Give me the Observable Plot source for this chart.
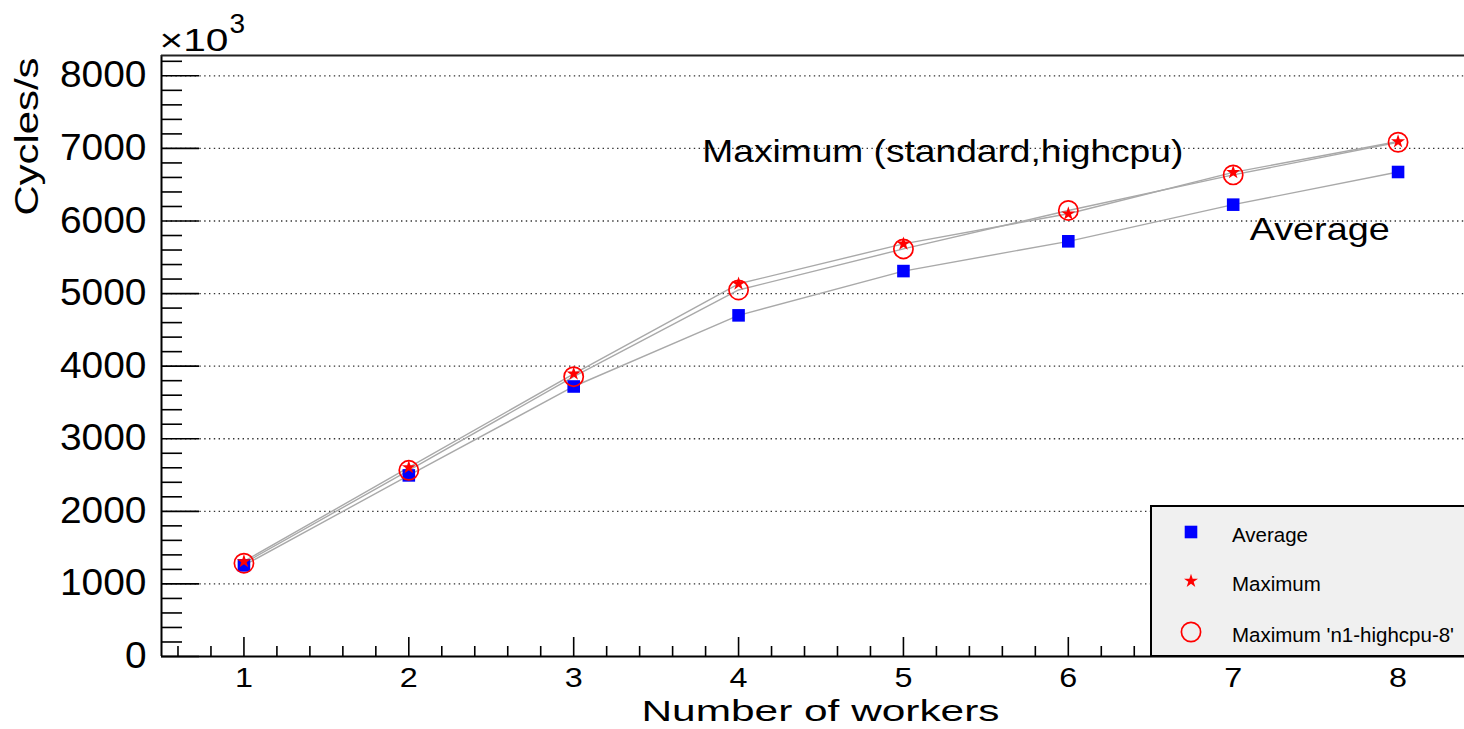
<!DOCTYPE html>
<html>
<head>
<meta charset="utf-8">
<script src="https://cdn.jsdelivr.net/npm/d3@7"></script>
<script src="https://cdn.jsdelivr.net/npm/@observablehq/plot@0.6"></script>
<style>
  html, body { margin: 0; padding: 0; background: #fff; overflow: hidden; }
  #wrap { position: relative; width: 1464px; height: 729px; overflow: hidden; }
  #legend { position: absolute; left: 1150px; top: 505px; }
</style>
</head>
<body>
<div id="wrap"></div>
<script>
// ---------------- data ----------------
const workers     = [1, 2, 3, 4, 5, 6, 7, 8];
const average     = [1255, 2495, 3720, 4700, 5310, 5720, 6225, 6675];
const maximum     = [1310, 2605, 3895, 5135, 5685, 6100, 6670, 7095];
const maxHighcpu8 = [1285, 2565, 3855, 5050, 5615, 6145, 6635, 7085];

const xTickValues = [1, 2, 3, 4, 5, 6, 7, 8];
const yTickValues = [0, 1000, 2000, 3000, 4000, 5000, 6000, 7000, 8000];

const seriesNames = ["Average", "Maximum", "Maximum 'n1-highcpu-8'"];
const xTitle = "Number of workers";
const yTitle = "Cycles/s";
const expBase = "×10";
const expPower = "3";
const annotations = [
  {label: "Maximum (standard,highcpu)", x: 3.78, y: 6806},
  {label: "Average", x: 7.10, y: 5745}
];

// ---------------- layout / style ----------------
const FONT = '"Liberation Sans", Arial, Helvetica, sans-serif';
const W = 1464, H = 729, mL = 161, mT = 55, mB = 73;
const plotW = W - mL, plotH = H - mT - mB;
const yMax = 8280;

// drawn widths (px) of the wide lettering of the original
const textWidths = {
  [expBase]: 69,
  [yTitle]: 158,
  [xTitle]: 358,
  "Maximum (standard,highcpu)": 481,
  "Average": 140
};

const rows = workers.map((w, i) => ({
  workers: w, average: average[i], maximum: maximum[i], highcpu8: maxHighcpu8[i]
}));

const xMinor = d3.range(6, 85, 2).map(d => d / 10).filter(d => d % 1 !== 0);
const yMinor = d3.range(200, yMax + 1, 200).filter(d => d % 1000 !== 0);

const LINE = "#a9a9a9";
const BLUE = "#0000ff", RED = "#ff0000";

const chart = Plot.plot({
  width: W, height: H,
  marginLeft: mL, marginRight: 0, marginTop: mT, marginBottom: mB,
  style: {fontFamily: FONT, background: "white", overflow: "hidden", color: "#000"},
  x: {domain: [0.5, 8.5], range: [mL, 1480]},
  y: {domain: [0, yMax], range: [H - mB, mT]},
  marks: [
    // dotted grid
    Plot.ruleY(yTickValues.filter(d => d > 0), {stroke: "#333", strokeWidth: 1.3, strokeDasharray: "1.4,3.4"}),
    // ticks (inside)
    Plot.ruleY(yMinor, {stroke: "#000", strokeWidth: 1.6, insetRight: plotW - 21}),
    Plot.ruleY(yTickValues, {stroke: "#000", strokeWidth: 1.6, insetRight: plotW - 38}),
    Plot.ruleX(xMinor, {stroke: "#000", strokeWidth: 1.6, insetTop: plotH - 10}),
    Plot.ruleX(xTickValues, {stroke: "#000", strokeWidth: 1.6, insetTop: plotH - 19}),
    // frame
    Plot.ruleX([0.5], {stroke: "#000", strokeWidth: 2}),
    Plot.ruleY([0], {stroke: "#000", strokeWidth: 2}),
    Plot.ruleY([yMax], {stroke: "#222", strokeWidth: 2}),
    // series lines
    Plot.line(rows, {x: "workers", y: "average", stroke: LINE, strokeWidth: 1.4}),
    Plot.line(rows, {x: "workers", y: "maximum", stroke: LINE, strokeWidth: 1.4}),
    Plot.line(rows, {x: "workers", y: "highcpu8", stroke: LINE, strokeWidth: 1.4}),
    // markers
    Plot.dot(rows, {x: "workers", y: "average", symbol: "square", fill: BLUE, r: 7.1}),
    Plot.dot(rows, {x: "workers", y: "maximum", symbol: "star", fill: RED, r: 4.4}),
    Plot.dot(rows, {x: "workers", y: "highcpu8", symbol: "circle", fill: "none", stroke: RED, strokeWidth: 1.7, r: 9.6}),
    // tick labels
    Plot.axisY({ticks: yTickValues, tickSize: 0, tickPadding: 15, tickFormat: d3.format("d"), fontSize: 36, label: null}),
    Plot.axisX({ticks: xTickValues, tickSize: 0, tickPadding: 11, tickFormat: d3.format("d"), fontSize: 27, label: null}),
    // titles
    Plot.text([expBase], {text: d => d, frameAnchor: "top-left", dx: -2, dy: -5, textAnchor: "start", lineAnchor: "bottom", fontSize: 31}),
    Plot.text([expPower], {text: d => d, frameAnchor: "top-left", dx: 68, dy: -23, textAnchor: "start", lineAnchor: "bottom", fontSize: 28}),
    Plot.text([yTitle], {text: d => d, frameAnchor: "top-left", dx: 37 - mL, dy: 2, rotate: -90, textAnchor: "end", lineAnchor: "bottom", fontSize: 33}),
    Plot.text([xTitle], {text: d => d, frameAnchor: "bottom-left", dx: 820 - mL, dy: 64, textAnchor: "middle", lineAnchor: "bottom", fontSize: 30}),
    Plot.text(annotations, {x: "x", y: "y", text: "label", textAnchor: "start", lineAnchor: "bottom", fontSize: 32})
  ]
});

const wrap = document.getElementById("wrap");
wrap.appendChild(chart);

// reproduce the wide lettering: fixed widths by content, stretch factor for ticks
chart.querySelectorAll("text").forEach(t => {
  const w = textWidths[t.textContent];
  if (w) { t.setAttribute("textLength", w); t.setAttribute("lengthAdjust", "spacingAndGlyphs"); }
});
function stretch(sel, k) {
  chart.querySelectorAll(sel).forEach(t => {
    const len = t.getComputedTextLength();
    t.setAttribute("textLength", (len * k).toFixed(1));
    t.setAttribute("lengthAdjust", "spacingAndGlyphs");
  });
}
stretch('g[aria-label="y-axis tick label"] text', 1.08);
stretch('g[aria-label="x-axis tick label"] text', 1.2);

// ---------------- legend ----------------
const legendSymbols = [
  {name: seriesNames[0], type: d3.symbolSquare, size: 12.6 * 12.6, fill: BLUE, stroke: "none"},
  {name: seriesNames[1], type: d3.symbolStar, size: Math.PI * 4.4 * 4.4, fill: RED, stroke: "none"},
  {name: seriesNames[2], type: d3.symbolCircle, size: Math.PI * 9.6 * 9.6, fill: "none", stroke: RED}
];
const LW = 340, LH = 152;
const leg = d3.select(wrap).append("svg")
  .attr("id", "legend").attr("width", LW).attr("height", LH)
  .style("font-family", FONT);
leg.append("rect").attr("x", 1).attr("y", 1).attr("width", LW).attr("height", LH - 2)
  .attr("fill", "#f0f0f0").attr("stroke", "#000").attr("stroke-width", 2);
const rowY = [27, 76, 127];
const g = leg.selectAll("g.item").data(legendSymbols).join("g").attr("class", "item")
  .attr("transform", (d, i) => `translate(0,${rowY[i]})`);
g.append("path").attr("transform", "translate(41,0)")
  .attr("d", d => d3.symbol(d.type, d.size)())
  .attr("fill", d => d.fill).attr("stroke", d => d.stroke).attr("stroke-width", 1.7);
g.append("text").attr("x", 82).attr("y", 3).attr("dy", "0.36em")
  .attr("font-size", 20.5).attr("fill", "#000").text(d => d.name);
</script>
</body>
</html>
